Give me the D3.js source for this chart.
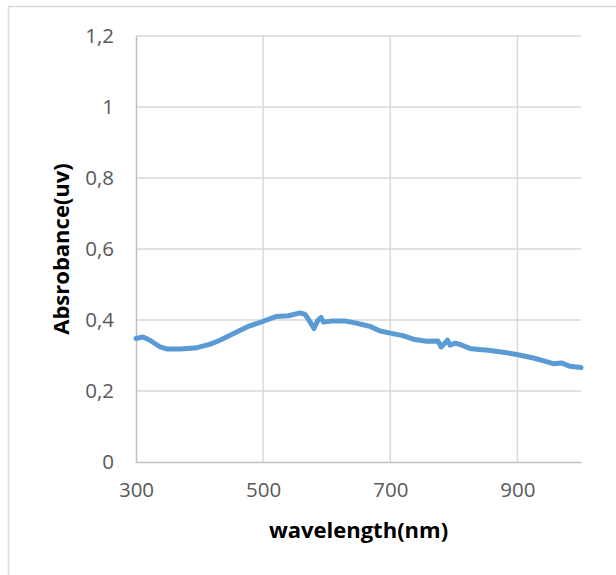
<!DOCTYPE html>
<html>
<head>
<meta charset="utf-8">
<script src="https://cdn.jsdelivr.net/npm/d3@7"></script>
<style>
  body { margin: 0; background: #fff; }
  svg { display: block; }
</style>
</head>
<body>
<div id="chart"></div>
<script>
// absorbance spectrum
const wavelength = [300, 311, 322, 338, 349, 370, 396, 417, 432, 448, 464, 478, 498, 521, 540, 558, 566,
    574, 580, 586, 591, 595, 608, 629, 645, 659, 668, 684, 700, 720, 736, 757, 775, 780, 786, 790,
    794, 802, 810, 825, 840, 854, 875, 899, 925, 943, 956, 969, 982, 1000];
const absorbance = [0.348, 0.352, 0.343, 0.324, 0.318, 0.318, 0.322, 0.332, 0.343, 0.357, 0.371, 0.383, 0.395, 0.410, 0.412, 0.420, 0.416,
    0.394, 0.376, 0.399, 0.407, 0.394, 0.397, 0.397, 0.392, 0.386, 0.382, 0.369, 0.363, 0.356, 0.346, 0.340, 0.341, 0.324, 0.335, 0.343,
    0.329, 0.335, 0.331, 0.320, 0.317, 0.315, 0.310, 0.303, 0.293, 0.284, 0.277, 0.279, 0.270, 0.266];

const xTicks = [300, 500, 700, 900];
const yTicks = [0, 0.2, 0.4, 0.6, 0.8, 1, 1.2];

const width = 616, height = 575;
const margin = { top: 36, right: 35, bottom: 113, left: 136 };
const plotW = width - margin.left - margin.right;
const plotH = height - margin.top - margin.bottom;

const svg = d3.select('#chart').append('svg')
    .attr('width', width)
    .attr('height', height);

// chart area frame
svg.append('rect')
    .attr('x', 8.5).attr('y', 6.5)
    .attr('width', 640).attr('height', 600)
    .attr('fill', 'white')
    .attr('stroke', '#d9d9d9')
    .attr('stroke-width', 1.5);

const x = d3.scaleLinear().domain([300, 1000]).range([0, plotW]);
const y = d3.scaleLinear().domain([0, 1.2]).range([plotH, 0]);

const g = svg.append('g')
    .attr('transform', `translate(${margin.left}, ${margin.top})`);

const fmt = d => d === 0 ? '0' : d3.format('.1f')(d).replace('.', ',').replace(',0', '');

// gridlines
g.append('g')
    .selectAll('line.hgrid')
    .data(yTicks.filter(d => d > 0))
    .join('line')
    .attr('x1', 0).attr('x2', plotW)
    .attr('y1', d => y(d)).attr('y2', d => y(d))
    .attr('stroke', '#d9d9d9')
    .attr('stroke-width', 1.5);

g.append('g')
    .selectAll('line.vgrid')
    .data(xTicks.filter(d => d > 300))
    .join('line')
    .attr('x1', d => x(d)).attr('x2', d => x(d))
    .attr('y1', 0).attr('y2', plotH)
    .attr('stroke', '#d9d9d9')
    .attr('stroke-width', 1.5);

// axes
const xAxis = g.append('g')
    .attr('transform', `translate(0, ${plotH})`)
    .call(d3.axisBottom(x).tickValues(xTicks).tickSize(0).tickPadding(20));
xAxis.select('.domain').attr('stroke', '#bfbfbf').attr('stroke-width', 1.5);

const yAxis = g.append('g')
    .call(d3.axisLeft(y).tickValues(yTicks).tickSize(0).tickPadding(22).tickFormat(fmt));
yAxis.select('.domain').attr('stroke', '#bfbfbf').attr('stroke-width', 1.5);

svg.selectAll('.tick text')
    .attr('font-family', '"Open Sans", sans-serif')
    .attr('font-size', 20.5)
    .attr('fill', '#595959');

// spectrum
const line = d3.line()
    .x((d, i) => x(wavelength[i]))
    .y(d => y(d));

g.append('path')
    .datum(absorbance)
    .attr('d', line)
    .attr('fill', 'none')
    .attr('stroke', '#5b9bd5')
    .attr('stroke-width', 5)
    .attr('stroke-linejoin', 'round')
    .attr('stroke-linecap', 'round');

// titles
svg.append('text')
    .attr('x', margin.left + plotW / 2)
    .attr('y', 538)
    .attr('text-anchor', 'middle')
    .attr('font-family', '"Open Sans", sans-serif')
    .attr('font-weight', 'bold')
    .attr('font-size', 22)
    .attr('fill', '#000')
    .text('wavelength(nm)');

svg.append('text')
    .attr('transform', `translate(69, ${margin.top + plotH / 2}) rotate(-90)`)
    .attr('text-anchor', 'middle')
    .attr('font-family', '"Open Sans", sans-serif')
    .attr('font-weight', 'bold')
    .attr('font-size', 22)
    .attr('fill', '#000')
    .text('Absrobance(uv)');
</script>
</body>
</html>
